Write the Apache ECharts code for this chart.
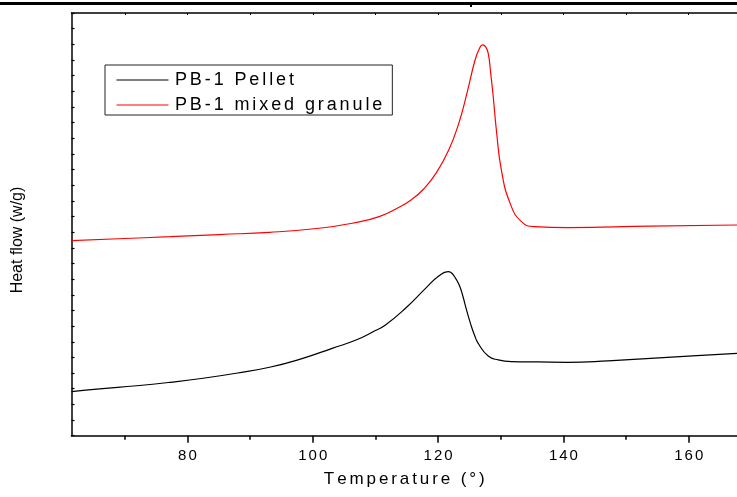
<!DOCTYPE html>
<html>
<head>
<meta charset="utf-8">
<script src="https://cdn.jsdelivr.net/npm/echarts@6/dist/echarts.min.js"></script>
<style>
  html, body { margin: 0; padding: 0; background: #fff; }
  #chart { width: 737px; height: 497px; }
</style>
</head>
<body>
<div id="chart"></div>
<script>
// DSC heating curves of PB-1 samples
const pelletT = [61.5, 66.0, 71.9, 77.2, 82.5, 87.8, 93.1, 98.4, 103.1, 106.9, 110.0, 111.6, 114.8, 118.0, 120.1, 121.6, 122.0, 122.6, 123.3, 123.9, 124.5, 125.2, 125.8, 126.4, 128.0, 129.6, 131.7, 136.0, 140.7, 147.1, 153.9, 160.6, 167.7];
const pelletY = [2.81, 2.99, 3.19, 3.41, 3.67, 3.99, 4.37, 4.94, 5.58, 6.11, 6.72, 7.07, 8.14, 9.41, 10.20, 10.48, 10.44, 10.17, 9.69, 8.99, 8.09, 7.13, 6.43, 5.90, 5.09, 4.84, 4.73, 4.71, 4.69, 4.78, 4.94, 5.10, 5.26];

const granuleT = [61.5, 69.0, 77.2, 85.1, 93.1, 101.0, 106.3, 110.6, 113.7, 115.8, 117.7, 119.6, 121.7, 123.3, 124.6, 125.9, 126.6, 127.1, 127.6, 128.0, 128.4, 128.8, 129.3, 130.1, 131.5, 133.3, 135.4, 140.7, 153.9, 167.7];
const granuleY = [12.46, 12.58, 12.71, 12.85, 12.99, 13.25, 13.57, 13.99, 14.58, 15.09, 15.76, 16.72, 18.25, 19.95, 21.87, 24.00, 24.73, 24.97, 24.84, 24.42, 23.14, 21.65, 19.53, 16.97, 14.84, 13.67, 13.35, 13.29, 13.39, 13.46];

const seriesNames = ['PB-1 Pellet', 'PB-1 mixed granule'];
const xMajorTicks = [80, 100, 120, 140, 160];
const xMinorTicks = [70, 90, 110, 130, 150];
const xTopTicks = [70, 80, 90, 100, 110, 120, 130, 140, 150, 160];
const xTitle = 'Temperature (°)';
const yTitle = 'Heat flow (w/g)';

const FONT = 'Liberation Sans, Arial, Helvetica, sans-serif';
const X_MIN = 61.5, X_MAX = 167.7;

// Wrap each character in a rich token so the text gets tracking.
function spaced(str, key) {
  return str.split('').map(c => '{' + key + '|' + c + '}').join('');
}
function pairs(xs, ys) { return xs.map((x, i) => [x, ys[i]]); }

const chart = echarts.init(document.getElementById('chart'), null, { renderer: 'canvas' });

const baseX = {
  type: 'value', min: X_MIN, max: X_MAX, gridIndex: 0,
  splitLine: { show: false }
};

chart.setOption({
  backgroundColor: '#ffffff',
  animation: false,
  grid: { left: 71.5, right: -3, top: 13, bottom: 61.3, containLabel: false },
  legend: {
    left: 105, top: 65, orient: 'vertical',
    data: seriesNames,
    icon: 'rect',
    itemWidth: 52, itemHeight: 1.2, itemGap: 7,
    padding: [6, 10, 1, 11.5],
    borderColor: '#222', borderWidth: 1, backgroundColor: '#fff',
    formatter: name => spaced(name, 'l'),
    textStyle: {
      fontSize: 18, fontFamily: FONT, color: '#000',
      rich: { l: { fontSize: 18, fontFamily: FONT, color: '#000', padding: [0, 1.45, 0, 1.45] } }
    }
  },
  xAxis: [
    Object.assign({}, baseX, {
      position: 'bottom',
      name: spaced(xTitle, 'n'), nameLocation: 'middle', nameGap: 35,
      nameTextStyle: {
        fontSize: 17, fontFamily: FONT, color: '#000',
        rich: { n: { fontSize: 17, fontFamily: FONT, color: '#000', padding: [0, 1.45, 0, 1.45] } }
      },
      axisLine: { show: true, lineStyle: { color: '#000', width: 1.5 } },
      axisTick: { show: true, inside: false, length: 7, customValues: xMajorTicks, lineStyle: { color: '#000', width: 1.5 } },
      axisLabel: {
        show: true, margin: 13, customValues: xMajorTicks,
        fontSize: 15, fontFamily: FONT, color: '#000',
        formatter: v => spaced(String(v), 't'),
        rich: { t: { fontSize: 15, fontFamily: FONT, color: '#000', padding: [0, 1, 0, 1] } }
      }
    }),
    Object.assign({}, baseX, {
      position: 'bottom',
      axisLine: { show: false },
      axisTick: { show: true, inside: false, length: 4, customValues: xMinorTicks, lineStyle: { color: '#000', width: 1.5 } },
      axisLabel: { show: false }
    }),
    Object.assign({}, baseX, {
      position: 'top',
      axisLine: { show: true, lineStyle: { color: '#000', width: 1.5 } },
      axisTick: { show: true, inside: true, length: 2, customValues: xTopTicks, lineStyle: { color: '#000', width: 1 } },
      axisLabel: { show: false }
    })
  ],
  yAxis: {
    type: 'value', min: 0, max: 27, interval: 1, position: 'left',
    splitLine: { show: false },
    axisLine: { show: true, lineStyle: { color: '#000', width: 1.5 } },
    axisTick: { show: true, inside: true, length: 3, lineStyle: { color: '#000', width: 1.2 } },
    axisLabel: { show: false }
  },
  graphic: [
    { type: 'rect', shape: { x: 0, y: 2, width: 737, height: 3 }, style: { fill: '#000' }, silent: true },
    { type: 'rect', shape: { x: 470, y: 5, width: 2, height: 2 }, style: { fill: '#000' }, silent: true },
    {
      type: 'text', x: 18, y: 240, rotation: Math.PI / 2,
      style: { text: yTitle, font: '16px ' + FONT, fill: '#000', align: 'center', verticalAlign: 'middle' },
      silent: true
    }
  ],
  series: [
    {
      name: seriesNames[0], type: 'line', xAxisIndex: 0,
      data: pairs(pelletT, pelletY),
      symbol: 'none', smooth: 0.5,
      lineStyle: { color: '#000000', width: 1.2 }, itemStyle: { color: '#000000' }
    },
    {
      name: seriesNames[1], type: 'line', xAxisIndex: 0,
      data: pairs(granuleT, granuleY),
      symbol: 'none', smooth: 0.5,
      lineStyle: { color: '#ff0000', width: 1.2 }, itemStyle: { color: '#ff0000' }
    }
  ]
});
</script>
</body>
</html>
